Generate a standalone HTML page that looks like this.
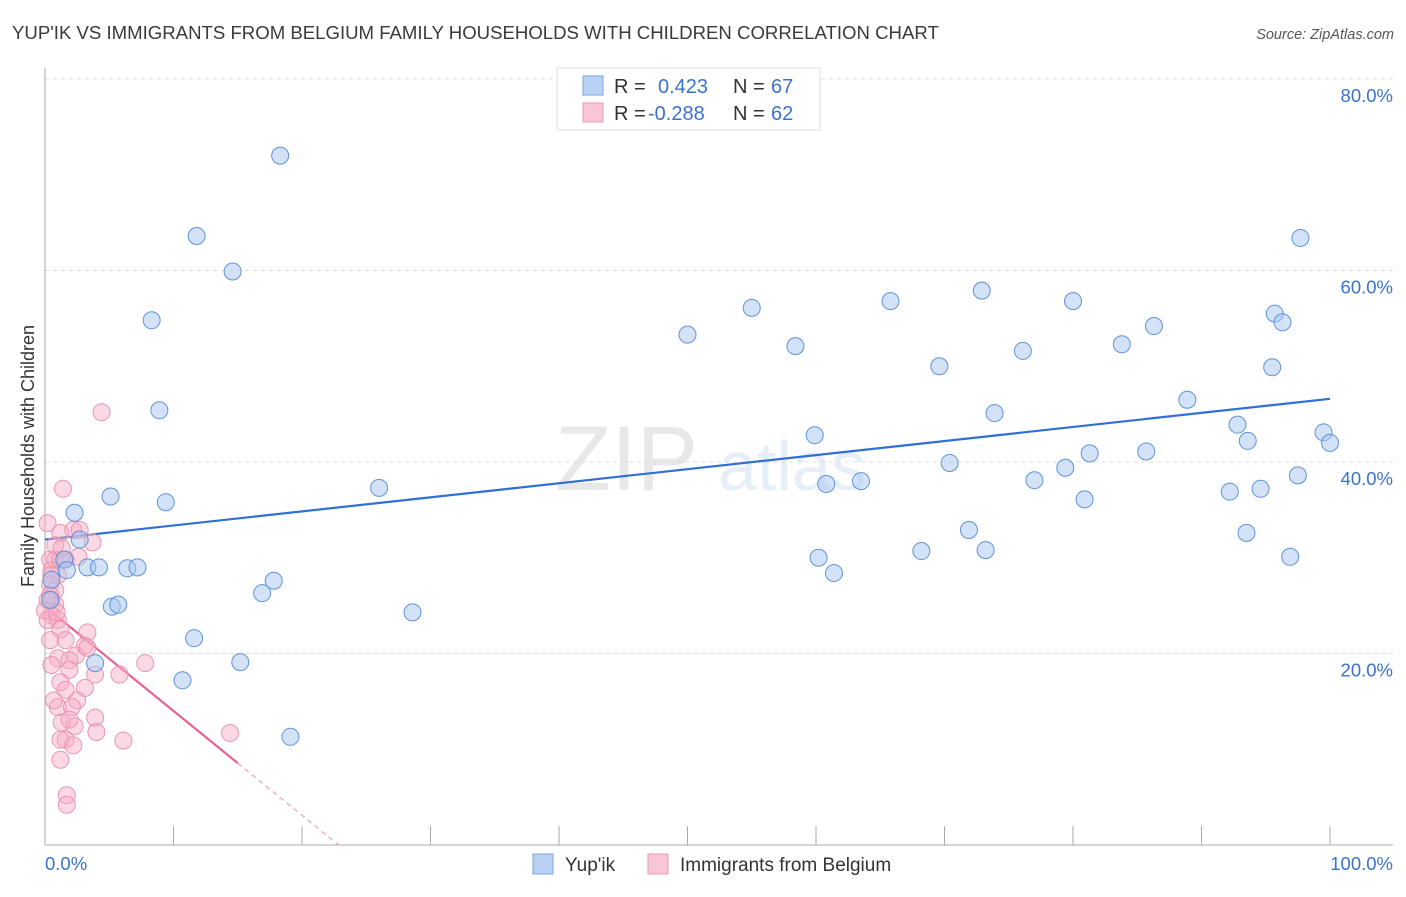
<!DOCTYPE html>
<html><head><meta charset="utf-8"><style>
body{margin:0;background:#fff;font-family:"Liberation Sans",sans-serif;}
svg text{font-family:"Liberation Sans",sans-serif;}
</style></head><body>
<svg id="chart" width="1406" height="892" xmlns="http://www.w3.org/2000/svg">
<text x="12" y="39" font-size="18.6" fill="#3a3a3a">YUP'IK VS IMMIGRANTS FROM BELGIUM FAMILY HOUSEHOLDS WITH CHILDREN CORRELATION CHART</text>
<text x="1394" y="39" font-size="14.5" fill="#555" font-style="italic" text-anchor="end">Source: ZipAtlas.com</text>
<g opacity="0.13"><text x="555" y="490" font-size="92" font-family="Liberation Serif" fill="#555">ZIP</text><text x="718" y="490" font-size="70" fill="#4a7fd0">atlas</text></g>
<g id="grid"></g>
<g id="axes"></g>
<g id="trends"></g>
<g id="pts"></g>
<text transform="translate(34,456) rotate(-90)" font-size="18" fill="#333" text-anchor="middle">Family Households with Children</text>
<g>
<rect x="557" y="68" width="263" height="62" fill="#fff" stroke="#ddd"/>
<rect x="583" y="76" width="20" height="19" fill="#b9d2f3" stroke="#7aa6e3"/>
<rect x="583" y="103" width="20" height="19" fill="#f9c6d5" stroke="#ec9ab5"/>
<text x="614" y="93" font-size="20" fill="#333">R = </text><text x="658" y="93" font-size="20" fill="#3a73cf">0.423</text>
<text x="733" y="93" font-size="20" fill="#333">N = </text><text x="771" y="93" font-size="20" fill="#3a73cf">67</text>
<text x="614" y="120" font-size="20" fill="#333">R = </text><text x="648" y="120" font-size="20" fill="#3a73cf">-0.288</text>
<text x="733" y="120" font-size="20" fill="#333">N = </text><text x="771" y="120" font-size="20" fill="#3a73cf">62</text>
</g>
<g>
<rect x="533" y="854" width="20" height="20" fill="#b9d2f3" stroke="#7aa6e3"/>
<text x="565" y="871" font-size="19" fill="#333">Yup'ik</text>
<rect x="648" y="854" width="20" height="20" fill="#f9c6d5" stroke="#ec9ab5"/>
<text x="680" y="871" font-size="19" fill="#333">Immigrants from Belgium</text>
</g>
</svg>
<script>
const blueX=[18.3,11.8,14.6,8.3,8.9,5.1,9.4,2.3,2.7,1.5,1.7,3.3,4.2,6.4,7.2,5.2,5.7,17.8,16.9,11.6,3.9,10.7,15.2,19.1,28.6,26.0,50.0,55.0,58.4,59.9,60.8,60.2,61.4,63.5,65.8,69.6,70.4,71.9,68.2,73.2,72.9,73.9,76.1,77.0,80.0,79.4,81.3,80.9,83.8,86.3,85.7,88.9,92.2,92.8,93.6,94.6,93.5,95.5,95.7,96.3,97.7,97.5,96.9,99.5,100,0.5,0.4];
const blueY=[72.0,63.6,59.9,54.8,45.4,36.4,35.8,34.7,31.9,29.8,28.7,29.0,29.0,28.9,29.0,24.9,25.1,27.6,26.3,21.6,19.0,17.2,19.1,11.3,24.3,37.3,53.3,56.1,52.1,42.8,37.7,30.0,28.4,38.0,56.8,50.0,39.9,32.9,30.7,30.8,57.9,45.1,51.6,38.1,56.8,39.4,40.9,36.1,52.3,54.2,41.1,46.5,36.9,43.9,42.2,37.2,32.6,49.9,55.5,54.6,63.4,38.6,30.1,43.1,42.0,27.7,25.6];
const pinkX=[4.4,1.4,0.2,1.2,2.2,2.7,3.7,2.6,0.4,0.8,1.2,1.6,0.5,1.0,0.4,0.8,0.5,0.8,0.5,1.0,0.2,1.2,3.3,1.6,3.1,2.4,1.0,0.5,1.9,1.9,3.9,5.8,7.8,3.1,1.2,2.5,1.0,2.1,3.9,1.3,2.3,4.0,1.6,1.2,2.2,6.1,14.4,1.7,1.7,0.2,0.4,0.0,0.8,1.3,0.5,0.4,0.9,3.3,1.6,0.7,1.9,1.2];
const pinkY=[45.2,37.2,33.6,32.6,32.9,32.9,31.6,30.1,29.8,29.8,29.8,29.8,28.7,28.2,27.2,26.6,25.6,25.1,24.0,23.5,23.5,22.5,22.2,21.4,20.8,19.8,19.5,18.8,19.3,18.3,17.8,17.8,19.0,16.4,17.0,15.1,14.4,14.4,13.3,12.8,12.4,11.8,11.0,11.0,10.4,10.9,11.7,5.2,4.2,25.6,21.4,24.5,31.3,31.0,28.2,26.1,24.3,20.6,16.2,15.1,13.1,8.9];
const blueTrend=[31.9,46.6];
const pinkTrend=[24.9,-1.09];
const pinkSolidEnd=15;
const yTicks=[20,40,60,80];
const xTicks=[0,10,20,30,40,50,60,70,80,90,100];
const NS="http://www.w3.org/2000/svg";
const X=v=>45+v*12.85, Y=v=>845-v*9.575;
function mk(tag,attrs,parent){const e=document.createElementNS(NS,tag);for(const k in attrs)e.setAttribute(k,attrs[k]);parent.appendChild(e);return e;}
const grid=document.getElementById('grid'),axes=document.getElementById('axes'),tr=document.getElementById('trends'),pts=document.getElementById('pts');
yTicks.forEach(t=>{
 const l=mk('line',{x1:45,x2:1393,y1:Y(t),y2:Y(t),stroke:'#ddd','stroke-dasharray':'4,4'},grid);
 
 
 const tx=mk('text',{x:1393,y:Y(t)+23,'font-size':18.5,fill:'#3a73cf','text-anchor':'end'},axes);
 tx.textContent=t.toFixed(1)+'%';
 
 
});
mk('line',{x1:45,x2:45,y1:68,y2:845,stroke:'#aaa'},axes);
mk('line',{x1:45,x2:1393,y1:845,y2:845,stroke:'#aaa'},axes);
xTicks.forEach(t=>{if(t>0){const l=mk('line',{x1:X(t),x2:X(t),y1:826,y2:845,stroke:'#aaa'},axes);
 
 }});
const x0=mk('text',{x:45,y:870,'font-size':18.5,fill:'#3a73cf'},axes);x0.textContent='0.0%';


const x1=mk('text',{x:1393,y:870,'font-size':18.5,fill:'#3a73cf','text-anchor':'end'},axes);x1.textContent='100.0%';


pinkX.forEach((v,i)=>{const c=mk('circle',{cx:X(v),cy:Y(pinkY[i]),r:8.5,fill:'rgba(246,170,196,0.45)',stroke:'#ec94b2','stroke-width':1},pts);
 
 });
blueX.forEach((v,i)=>{const c=mk('circle',{cx:X(v),cy:Y(blueY[i]),r:8.5,fill:'rgba(168,198,240,0.5)',stroke:'#5e93db','stroke-width':1},pts);
 
 });
const bl=mk('line',{x1:X(0),y1:Y(blueTrend[0]),x2:X(100),y2:Y(blueTrend[1]),stroke:'#2f6fd6','stroke-width':2.2},tr);


const pz=-pinkTrend[0]/pinkTrend[1];
const pl=mk('line',{x1:X(0),y1:Y(pinkTrend[0]),x2:X(pinkSolidEnd),y2:Y(pinkTrend[0]+pinkTrend[1]*pinkSolidEnd),stroke:'#e8648f','stroke-width':2.2},tr);


const pd=mk('line',{x1:X(pinkSolidEnd),y1:Y(pinkTrend[0]+pinkTrend[1]*pinkSolidEnd),x2:X(pz),y2:Y(0),stroke:'#eea0ba','stroke-width':1.2,'stroke-dasharray':'5,4'},tr);


</script>
</body></html>
